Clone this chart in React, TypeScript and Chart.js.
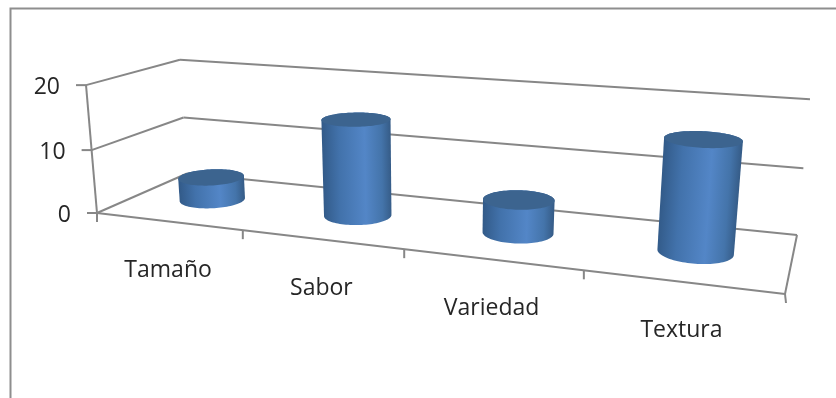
import { useEffect, useRef } from "react";
import { Chart, registerables, Plugin } from "chart.js";

Chart.register(...registerables);

const categories = ["Tamaño", "Sabor", "Variedad", "Textura"];
const values = [3.7, 15, 5, 16];
const axisTicks = [0, 10, 20];
const axisMax = 20;

const LINE = "#878787";
const FONT = '23px "Open Sans"';

type Pt = [number, number];

// Perspective frame of the floor: corners of the unit square (across, depth).
const floorFront0: Pt = [97, 213];
const floorFront1: Pt = [785, 294];
const floorBack1: Pt = [797, 235];
const floorBack0: Pt = [187, 173.5];
// Vanishing point of the upright direction and its weight per axis unit.
const riseVanish: Pt = [429, 4081];
const riseWeight = -0.0016;

function makeProjection() {
  const [x0, y0] = floorFront0;
  const [x1, y1] = floorFront1;
  const [x2, y2] = floorBack1;
  const [x3, y3] = floorBack0;
  const sx = x0 - x1 + x2 - x3;
  const sy = y0 - y1 + y2 - y3;
  const dx1 = x1 - x2;
  const dx2 = x3 - x2;
  const dy1 = y1 - y2;
  const dy2 = y3 - y2;
  const den = dx1 * dy2 - dx2 * dy1;
  const g = (sx * dy2 - dx2 * sy) / den;
  const h = (dx1 * sy - sx * dy1) / den;
  const a = x1 - x0 + g * x1;
  const b = x3 - x0 + h * x3;
  const d = y1 - y0 + g * y1;
  const e = y3 - y0 + h * y3;
  return (u: number, depth: number, rise: number): Pt => {
    const k = riseWeight * rise;
    const w = g * u + h * depth + 1 + k;
    return [
      (a * u + b * depth + x0 + k * riseVanish[0]) / w,
      (d * u + e * depth + y0 + k * riseVanish[1]) / w,
    ];
  };
}

function convexHull(points: Pt[]): Pt[] {
  const pts = [...points].sort((p, q) => p[0] - q[0] || p[1] - q[1]);
  const cross = (o: Pt, p: Pt, q: Pt) =>
    (p[0] - o[0]) * (q[1] - o[1]) - (p[1] - o[1]) * (q[0] - o[0]);
  const lower: Pt[] = [];
  for (const p of pts) {
    while (lower.length >= 2 && cross(lower[lower.length - 2], lower[lower.length - 1], p) <= 0) lower.pop();
    lower.push(p);
  }
  const upper: Pt[] = [];
  for (const p of pts.reverse()) {
    while (upper.length >= 2 && cross(upper[upper.length - 2], upper[upper.length - 1], p) <= 0) upper.pop();
    upper.push(p);
  }
  return lower.slice(0, -1).concat(upper.slice(0, -1));
}

function tracePolygon(ctx: CanvasRenderingContext2D, pts: Pt[]) {
  ctx.beginPath();
  pts.forEach((p, i) => (i ? ctx.lineTo(p[0], p[1]) : ctx.moveTo(p[0], p[1])));
  ctx.closePath();
}

const depthCentre = 0.5;
const depthRadius = 0.2;

// Draws the flat bar chart's scales and bars as a tilted 3-D scene with cylinders.
const scenePlugin: Plugin<"bar"> = {
  id: "scene3d",
  afterDatasetsDraw(chart) {
    const { ctx, chartArea, scales } = chart;
    const project = makeProjection();
    const xScale = scales.x;
    const yScale = scales.y;
    const across = (px: number) => (px - chartArea.left) / chartArea.width;
    const rise = (px: number) => ((chartArea.bottom - px) / chartArea.height) * axisMax;
    const n = categories.length;

    const stroke = (p: Pt, q: Pt, width = 2, color = LINE) => {
      ctx.strokeStyle = color;
      ctx.lineWidth = width;
      ctx.beginPath();
      ctx.moveTo(p[0], p[1]);
      ctx.lineTo(q[0], q[1]);
      ctx.stroke();
    };

    ctx.save();

    // Outer chart border, open at the right and bottom.
    ctx.strokeStyle = "#8e8e8e";
    ctx.lineWidth = 2;
    ctx.beginPath();
    ctx.moveTo(10.5, 398);
    ctx.lineTo(10.5, 8.5);
    ctx.lineTo(836, 8.5);
    ctx.stroke();

    // Walls and floor.
    for (const t of axisTicks) {
      const h = rise(yScale.getPixelForValue(t));
      const front = project(0, 0, h);
      const back = project(0, 1, h);
      const end = project(1, 1, h);
      stroke(front, back);
      stroke(back, end);
      stroke(front, [front[0] - 10, front[1]]);
    }
    stroke(project(0, 0, 0), project(0, 0, axisMax));
    stroke(floorFront0, floorFront1);
    stroke(floorFront1, floorBack1);
    for (let i = 0; i <= n; i++) {
      const p = project(i / n, 0, 0);
      stroke(p, [p[0] + (i === n ? 1 : 0), p[1] + 9]);
    }

    // Cylinders.
    const meta = chart.getDatasetMeta(0);
    meta.data.forEach((bar) => {
      const el = bar as unknown as { x: number; y: number; base: number; width: number };
      const uc = across(el.x);
      const ur = el.width / chartArea.width / 2;
      const top = rise(el.y);
      const base = rise(el.base);
      const ring = (h: number) => {
        const pts: Pt[] = [];
        for (let k = 0; k < 96; k++) {
          const t = (k / 96) * Math.PI * 2;
          pts.push(project(uc + ur * Math.cos(t), depthCentre + depthRadius * Math.sin(t), h));
        }
        return pts;
      };
      const lower = ring(base);
      const upper = ring(top);
      const hull = convexHull(lower.concat(upper));

      // Shade across the cylinder, square to its slightly leaning axis.
      const cLow = project(uc, depthCentre, base);
      const cTop = project(uc, depthCentre, top);
      let ax = cTop[0] - cLow[0];
      let ay = cTop[1] - cLow[1];
      const len = Math.hypot(ax, ay) || 1;
      ax /= len;
      ay /= len;
      const nx = -ay;
      const ny = ax;
      const along = hull.map((p) => (p[0] - cLow[0]) * nx + (p[1] - cLow[1]) * ny);
      const lo = Math.min(...along);
      const hi = Math.max(...along);
      const grad = ctx.createLinearGradient(
        cLow[0] + nx * lo, cLow[1] + ny * lo,
        cLow[0] + nx * hi, cLow[1] + ny * hi,
      );
      const flip = nx < 0;
      const stops: [number, string][] = [
        [0, "#325a88"],
        [0.25, "#4272ab"],
        [0.62, "#5386c7"],
        [0.86, "#4474aa"],
        [1, "#355b86"],
      ];
      stops.forEach(([o, c]) => grad.addColorStop(flip ? 1 - o : o, c));
      tracePolygon(ctx, hull);
      ctx.fillStyle = grad;
      ctx.fill();

      tracePolygon(ctx, upper);
      ctx.fillStyle = "#3c648f";
      ctx.fill();
    });

    // Tick labels.
    ctx.font = FONT;
    ctx.fillStyle = "#262626";
    ctx.textBaseline = "middle";
    ctx.textAlign = "right";
    for (const t of axisTicks) {
      const p = project(0, 0, rise(yScale.getPixelForValue(t)));
      ctx.fillText(String(t), p[0] - 26, p[1] + 2);
    }
    ctx.textAlign = "center";
    categories.forEach((label, i) => {
      const p = project(across(xScale.getPixelForValue(i)), 0, 0);
      ctx.fillText(label, p[0], p[1] + 49);
    });

    ctx.restore();
  },
};

export default function App() {
  const ref = useRef<HTMLCanvasElement>(null);
  useEffect(() => {
    document.body.style.margin = "0";
    const chart = new Chart(ref.current!, {
      type: "bar",
      data: {
        labels: categories,
        datasets: [
          {
            data: values,
            backgroundColor: "transparent",
            barPercentage: 0.405,
            categoryPercentage: 1,
          },
        ],
      },
      options: {
        animation: false,
        responsive: false,
        layout: { padding: 0 },
        plugins: { legend: { display: false }, tooltip: { enabled: false } },
        scales: {
          x: { display: false, offset: true },
          y: { display: false, min: 0, max: axisMax },
        },
      },
      plugins: [scenePlugin],
    });
    return () => chart.destroy();
  }, []);
  return <canvas ref={ref} width={836} height={398} style={{ display: "block", background: "#fff" }} />;
}
